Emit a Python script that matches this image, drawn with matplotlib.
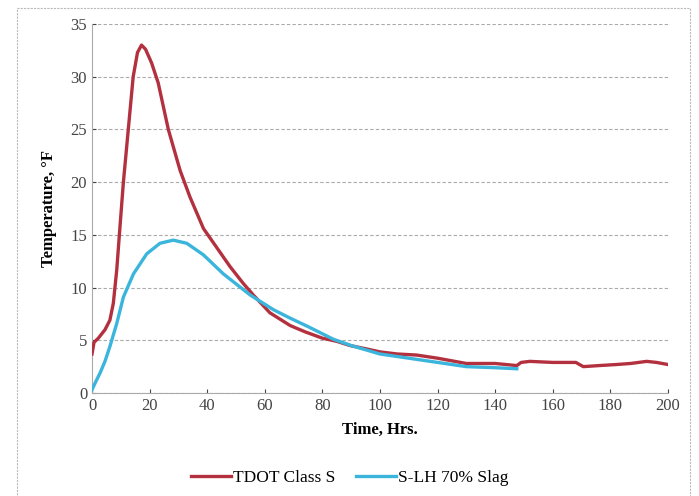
import matplotlib.pyplot as plt
from matplotlib.patches import Rectangle

# TDOT Class S
tdot_t = [0, 0.7, 2.2, 4.5, 6.2, 7.4, 8.6, 9.5, 10.9, 12.6, 14.3, 15.8, 17.2, 18.6, 20.7,
          23.0, 26.5, 30.6, 34, 38.7, 43.3, 47.9, 52.5, 56, 61.8, 68.8, 74, 80, 85,
          89.6, 95, 100, 106, 112.7, 120, 130, 140, 147.5, 149, 152, 160, 168, 170.6, 176,
          182, 187, 192.6, 196, 200]
tdot_y = [3.7, 4.8, 5.2, 6.0, 6.9, 8.5, 11.7, 15.0, 20.0, 25.0, 30.0, 32.3, 33.0, 32.6, 31.3,
          29.4, 25.0, 21.1, 18.6, 15.6, 13.8, 12.0, 10.4, 9.3, 7.6, 6.4, 5.8, 5.2, 4.9,
          4.5, 4.2, 3.9, 3.7, 3.6, 3.3, 2.8, 2.8, 2.6, 2.9, 3.0, 2.9, 2.9, 2.5, 2.6,
          2.7, 2.8, 3.0, 2.9, 2.7]

# S-LH 70% Slag
slag_t = [0, 1, 2.8, 4.5, 6.2, 8.6, 10.9, 14.4, 19, 23.6, 28.2, 32.9, 38.7, 45.6, 54.9,
          63, 68.8, 75, 83.8, 90, 100, 110, 120, 130, 140, 147.5]
slag_y = [0.3, 0.9, 1.9, 3.0, 4.4, 6.6, 9.1, 11.3, 13.2, 14.2, 14.5, 14.2, 13.1, 11.3, 9.3,
          7.9, 7.1, 6.3, 5.1, 4.5, 3.7, 3.3, 2.9, 2.5, 2.4, 2.3]

plt.rc('font', family='Liberation Serif')

fig = plt.figure(figsize=(6.99, 4.96), dpi=100)
ax = fig.add_axes([92/699, 1 - 393/496, (668 - 92)/699, (393 - 24)/496])

ax.plot(tdot_t, tdot_y, color='#b3313f', linewidth=2.4, label='TDOT Class S',
        zorder=3, solid_joinstyle='round')
ax.plot(slag_t, slag_y, color='#3bb5dc', linewidth=2.4, label='S-LH 70% Slag',
        zorder=3, solid_joinstyle='round')

ax.set_xlim(0, 200)
ax.set_ylim(0, 35)
ax.set_xticks(range(0, 201, 20))
ax.set_yticks(range(0, 36, 5))
ax.tick_params(labelsize=12, colors='#444444', length=3, direction='in')
ax.grid(axis='y', linestyle=(0, (3, 2)), color='#aaaaaa', linewidth=0.8)

for side in ['top', 'right']:
    ax.spines[side].set_visible(False)
for side in ['left', 'bottom']:
    ax.spines[side].set_color('#aaaaaa')
    ax.spines[side].set_linestyle((0, (2, 1)))

ax.set_xlabel('Time, Hrs.', fontsize=12, fontweight='bold', labelpad=6)
ax.set_ylabel('Temperature, \u00b0F', fontsize=12, fontweight='bold', labelpad=10)

fig.legend(loc='center', bbox_to_anchor=(0.5, 1 - 478/496), ncol=2, frameon=False,
           fontsize=12.5, handlelength=2.3, handletextpad=0.1, columnspacing=1.2)

# outer chart frame
fig.patches.append(Rectangle((17/699, -0.02), (690 - 17)/699, 1 - 8/496 + 0.02,
                             transform=fig.transFigure, fill=False,
                             edgecolor='#bbbbbb', linestyle=(0, (2, 1)), linewidth=0.8))

plt.savefig('out.png', dpi=100)
